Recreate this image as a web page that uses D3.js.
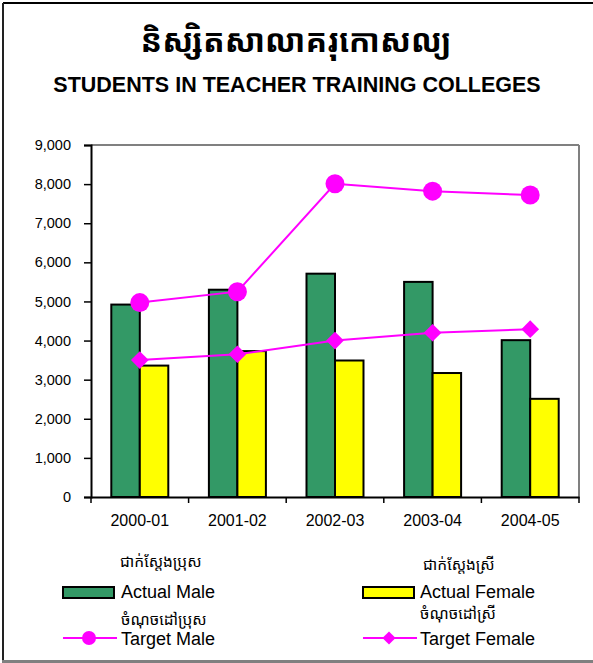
<!DOCTYPE html>
<html>
<head>
<meta charset="utf-8">
<script src="https://cdn.jsdelivr.net/npm/d3@7"></script>
<style>
  body { margin: 0; background: #fff; }
  svg { display: block; font-family: Arial, 'Liberation Sans', sans-serif; }
  .khmer { font-family: 'Khmer OS', 'Noto Sans Khmer', 'Noto Sans', 'DejaVu Sans', sans-serif; }
</style>
</head>
<body>
<div id="chart"></div>
<script>
const years = ['2000-01', '2001-02', '2002-03', '2003-04', '2004-05'];
const actualMale = [4920, 5300, 5710, 5500, 4010];
const actualFemale = [3360, 3730, 3490, 3170, 2510];
const targetMale = [4970, 5250, 8010, 7820, 7720];
const targetFemale = [3500, 3650, 4000, 4200, 4290];
const yTicks = [0, 1000, 2000, 3000, 4000, 5000, 6000, 7000, 8000, 9000];

const width = 593;
const height = 663;
const margin = { top: 145, right: 14, bottom: 166, left: 91 };

const svg = d3.select('#chart').append('svg')
  .attr('width', width)
  .attr('height', height)
  .attr('viewBox', [0, 0, width, height]);

/* OUTER FRAME */

svg.append('line').attr('x1', 3).attr('x2', width).attr('y1', 3).attr('y2', 3)
  .attr('stroke', '#000').attr('stroke-width', 2);
svg.append('line').attr('x1', 3).attr('x2', 3).attr('y1', 3).attr('y2', 662)
  .attr('stroke', '#222').attr('stroke-width', 2);
svg.append('line').attr('x1', 2).attr('x2', width).attr('y1', 661.5).attr('y2', 661.5)
  .attr('stroke', '#808080').attr('stroke-width', 3);

/* TITLES */

svg.append('text')
  .attr('class', 'khmer')
  .attr('x', 296)
  .attr('y', 52)
  .attr('text-anchor', 'middle')
  .attr('font-size', 32)
  .attr('font-weight', 'bold')
  .text('និស្សិតសាលាគរុកោសល្យ');

svg.append('text')
  .attr('x', 297)
  .attr('y', 92)
  .attr('text-anchor', 'middle')
  .attr('font-size', 21.5)
  .attr('font-weight', 'bold')
  .text('STUDENTS IN TEACHER TRAINING COLLEGES');

/* SCALES */

const x = d3.scaleBand()
  .domain(years)
  .range([margin.left, width - margin.right]);

const inner = d3.scaleBand()
  .domain(['male', 'female'])
  .range([x.bandwidth() * 0.208, x.bandwidth() * 0.792]);

const y = d3.scaleLinear()
  .domain([0, 9000])
  .range([height - margin.bottom, margin.top]);

const plotRight = width - margin.right;
const plotBottom = height - margin.bottom;

/* PLOT FRAME */

svg.append('line')
  .attr('x1', margin.left).attr('x2', plotRight)
  .attr('y1', margin.top).attr('y2', margin.top)
  .attr('stroke', '#808080').attr('stroke-width', 2);
svg.append('line')
  .attr('x1', plotRight).attr('x2', plotRight)
  .attr('y1', margin.top).attr('y2', plotBottom)
  .attr('stroke', '#808080').attr('stroke-width', 2);

/* AXES */

svg.append('g')
  .attr('transform', `translate(${margin.left}, 0)`)
  .call(d3.axisLeft(y)
    .tickValues(yTicks)
    .tickFormat(d3.format(','))
    .tickSize(7)
    .tickPadding(13))
  .call((g) => g.select('.domain').attr('stroke', '#000').attr('stroke-width', 2))
  .call((g) => g.selectAll('.tick line').attr('stroke-width', 1.5))
  .call((g) => g.selectAll('.tick text')
    .attr('font-size', 14.5)
    .attr('fill', '#000')
    .attr('font-family', 'Arial, Liberation Sans, sans-serif'));

svg.append('g')
  .attr('transform', `translate(0, ${plotBottom})`)
  .call(d3.axisBottom(x).tickSize(0).tickPadding(18))
  .call((g) => g.select('.domain').attr('stroke', '#000').attr('stroke-width', 2))
  .call((g) => g.selectAll('.tick text')
    .attr('font-size', 16)
    .attr('fill', '#000')
    .attr('font-family', 'Arial, Liberation Sans, sans-serif'));

svg.append('g')
  .selectAll('line')
  .data(years.concat(['end']))
  .join('line')
  .attr('x1', (d) => (d === 'end' ? plotRight : x(d)))
  .attr('x2', (d) => (d === 'end' ? plotRight : x(d)))
  .attr('y1', plotBottom)
  .attr('y2', plotBottom + 6)
  .attr('stroke', '#000')
  .attr('stroke-width', 1.5);

/* BARS */

const barData = years.map((yr, i) => [
  { year: yr, key: 'male', value: actualMale[i] },
  { year: yr, key: 'female', value: actualFemale[i] },
]).flat();

svg.append('g')
  .selectAll('rect')
  .data(barData)
  .join('rect')
  .attr('x', (d) => x(d.year) + inner(d.key))
  .attr('y', (d) => y(d.value))
  .attr('width', inner.bandwidth())
  .attr('height', (d) => y(0) - y(d.value))
  .attr('fill', (d) => (d.key === 'male' ? '#339966' : '#ffff00'))
  .attr('stroke', '#000')
  .attr('stroke-width', 2);

/* LINES */

const line = d3.line()
  .x((d, i) => x(years[i]) + x.bandwidth() / 2)
  .y((d) => y(d));

svg.append('path')
  .datum(targetMale)
  .attr('d', line)
  .attr('fill', 'none')
  .attr('stroke', '#ff00ff')
  .attr('stroke-width', 2);

svg.append('path')
  .datum(targetFemale)
  .attr('d', line)
  .attr('fill', 'none')
  .attr('stroke', '#ff00ff')
  .attr('stroke-width', 2);

svg.append('g')
  .selectAll('circle')
  .data(targetMale)
  .join('circle')
  .attr('cx', (d, i) => x(years[i]) + x.bandwidth() / 2)
  .attr('cy', (d) => y(d))
  .attr('r', 9.5)
  .attr('fill', '#ff00ff');

const diamond = d3.symbol().type(d3.symbolDiamond2).size(200);

svg.append('g')
  .selectAll('path')
  .data(targetFemale)
  .join('path')
  .attr('d', diamond)
  .attr('transform', (d, i) => `translate(${x(years[i]) + x.bandwidth() / 2}, ${y(d)})`)
  .attr('fill', '#ff00ff');

/* LEGEND */

const legend = [
  { khmer: 'ជាក់ស្តែងប្រុស', kx: 120, ky: 567, label: 'Actual Male', lx: 121, ly: 598, type: 'bar', fill: '#339966', sx: 63 },
  { khmer: 'ចំណុចដៅប្រុស', kx: 121, ky: 625, label: 'Target Male', lx: 121, ly: 645, type: 'circle', sx: 63 },
  { khmer: 'ជាក់ស្តែងស្រី', kx: 423, ky: 570, label: 'Actual Female', lx: 420, ly: 598, type: 'bar', fill: '#ffff00', sx: 363 },
  { khmer: 'ចំណុចដៅស្រី', kx: 420, ky: 619, label: 'Target Female', lx: 420, ly: 645, type: 'diamond', sx: 363 },
];

const items = svg.append('g')
  .selectAll('g')
  .data(legend)
  .join('g');

items.append('text')
  .attr('class', 'khmer')
  .attr('x', (d) => d.kx)
  .attr('y', (d) => d.ky)
  .attr('font-size', 15.5)
  .text((d) => d.khmer);

items.append('text')
  .attr('x', (d) => d.lx)
  .attr('y', (d) => d.ly)
  .attr('font-size', 18)
  .text((d) => d.label);

items.filter((d) => d.type === 'bar')
  .append('rect')
  .attr('x', (d) => d.sx)
  .attr('y', 587)
  .attr('width', 51)
  .attr('height', 11)
  .attr('fill', (d) => d.fill)
  .attr('stroke', '#000')
  .attr('stroke-width', 2);

items.filter((d) => d.type !== 'bar')
  .append('line')
  .attr('x1', (d) => d.sx)
  .attr('x2', (d) => d.sx + 54)
  .attr('y1', 638)
  .attr('y2', 638)
  .attr('stroke', '#ff00ff')
  .attr('stroke-width', 2);

items.filter((d) => d.type === 'circle')
  .append('circle')
  .attr('cx', (d) => d.sx + 26)
  .attr('cy', 638)
  .attr('r', 7)
  .attr('fill', '#ff00ff');

items.filter((d) => d.type === 'diamond')
  .append('path')
  .attr('d', d3.symbol().type(d3.symbolDiamond2).size(110))
  .attr('transform', (d) => `translate(${d.sx + 26}, 638)`)
  .attr('fill', '#ff00ff');
</script>
</body>
</html>
